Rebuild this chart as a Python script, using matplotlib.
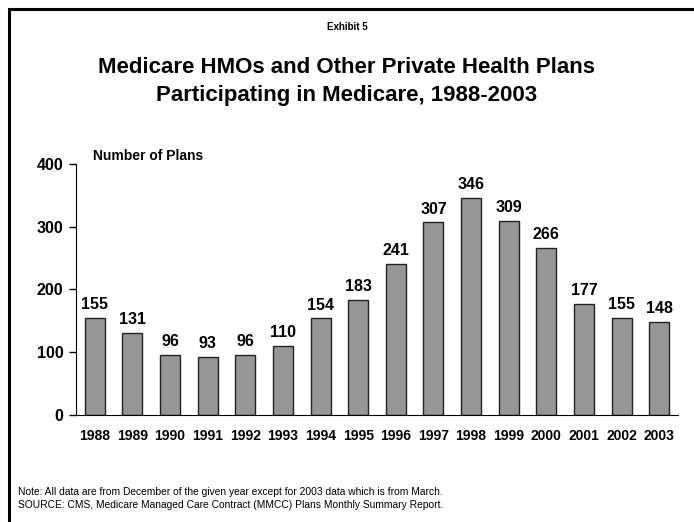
import matplotlib.pyplot as plt
from matplotlib.patches import Rectangle

plt.rcParams['font.family'] = ['Liberation Sans', 'DejaVu Sans']

years = ['1988', '1989', '1990', '1991', '1992', '1993', '1994', '1995',
         '1996', '1997', '1998', '1999', '2000', '2001', '2002', '2003']
plans = [155, 131, 96, 93, 96, 110, 154, 183, 241, 307, 346, 309, 266, 177, 155, 148]

fig = plt.figure(figsize=(6.94, 5.22), dpi=100)
ax = fig.add_axes([0.1095, 0.205, 0.8675, 0.481])

x = range(len(years))
ax.bar(x, plans, width=0.53, color='#969696', edgecolor='#222222', linewidth=1)
for i, v in enumerate(plans):
    ax.text(i, v + 9, str(v), ha='center', va='bottom', fontsize=11.5, fontweight='bold')

ax.set_xlim(-0.5, 15.5)
ax.set_ylim(0, 400)
ax.set_yticks([0, 100, 200, 300, 400])
ax.set_xticks(list(x))
ax.set_xticklabels(years)
ax.tick_params(axis='y', length=5, width=1, labelsize=11.5, pad=4)
ax.tick_params(axis='x', length=0, labelsize=10, pad=10)
for lab in ax.get_xticklabels() + ax.get_yticklabels():
    lab.set_fontweight('bold')
ax.spines['top'].set_visible(False)
ax.spines['right'].set_visible(False)

ax.text(0.028, 1.005, 'Number of Plans', transform=ax.transAxes, fontsize=10,
        fontweight='bold', va='bottom')

fig.text(0.5, 0.948, 'Exhibit 5', ha='center', va='center', fontsize=7, fontweight='bold')
fig.text(0.5, 0.844, 'Medicare HMOs and Other Private Health Plans\nParticipating in Medicare, 1988-2003',
         ha='center', va='center', fontsize=16, fontweight='bold', linespacing=1.45)
fig.text(0.026, 0.045, 'Note: All data are from December of the given year except for 2003 data which is from March.\n'
         'SOURCE: CMS, Medicare Managed Care Contract (MMCC) Plans Monthly Summary Report.',
         ha='left', va='center', fontsize=7.4, linespacing=1.3)

fig.patches.append(Rectangle((9 / 694, -0.05), 1.1, 1.05 - 9 / 522, transform=fig.transFigure,
                             fill=False, edgecolor='black', linewidth=2.2))

fig.savefig('out.png', dpi=100)
